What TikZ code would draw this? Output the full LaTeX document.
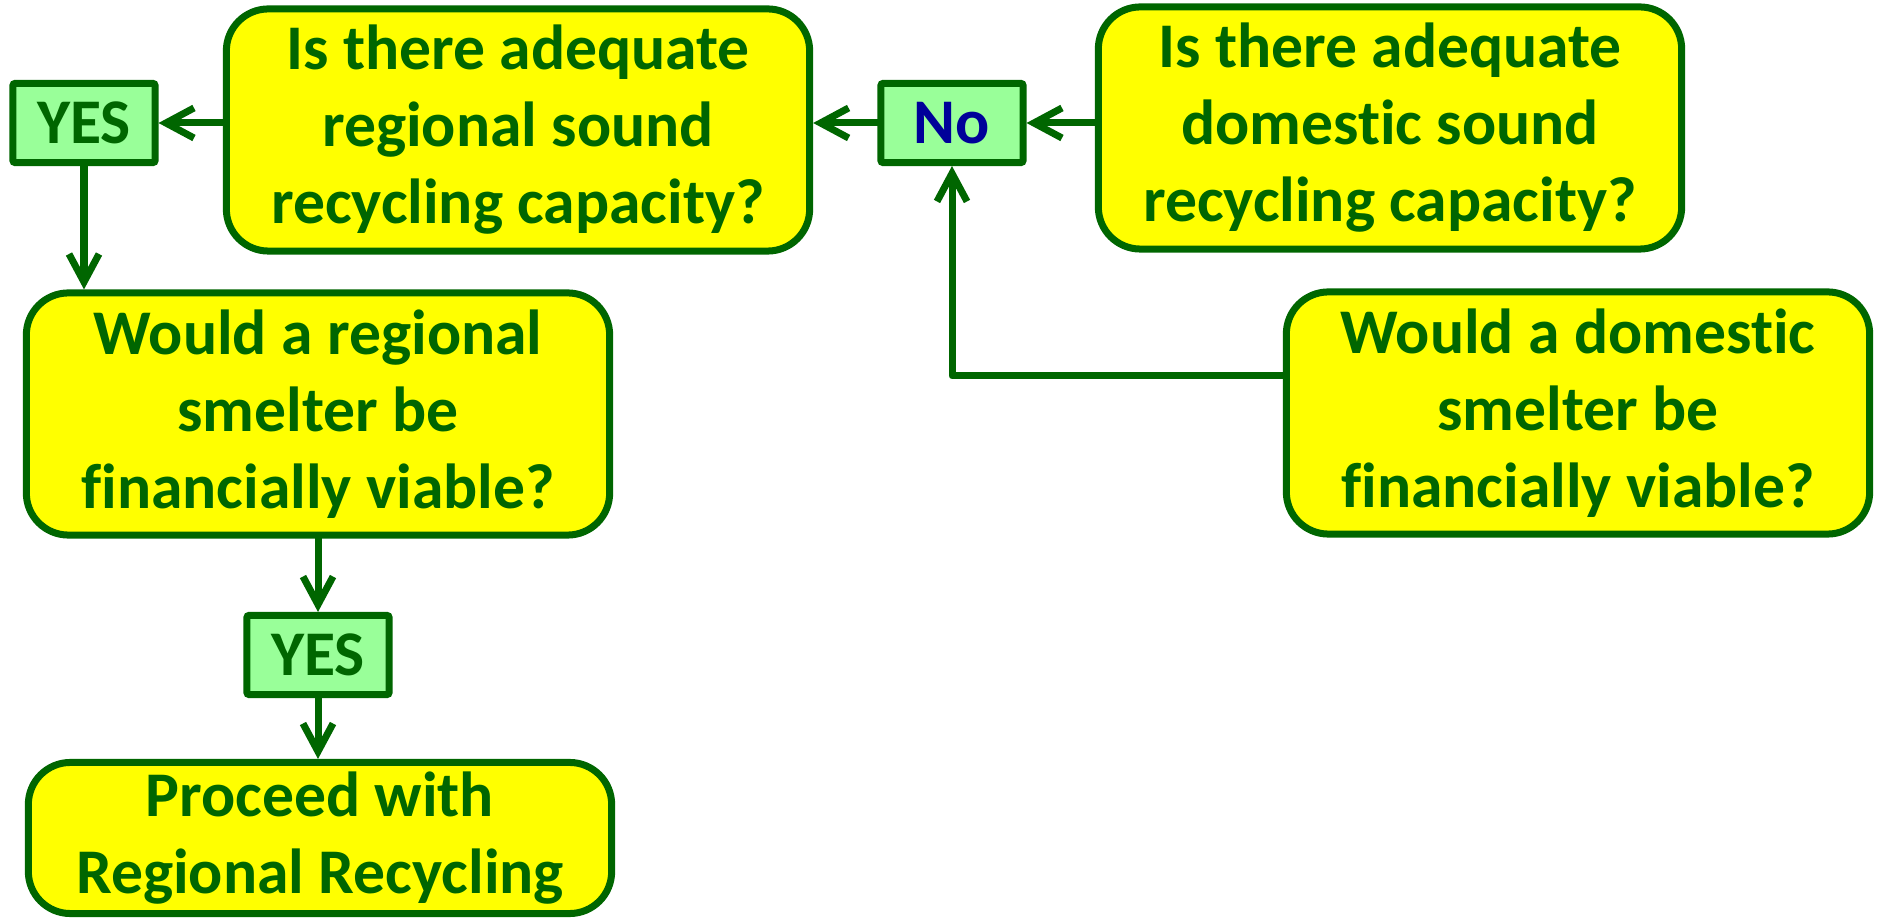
\documentclass[tikz,border=0pt]{standalone}
\usepackage{fontspec}
\setmainfont{Carlito}[Ligatures=NoCommon]
\usetikzlibrary{arrows.meta}
\definecolor{darkgrn}{RGB}{0,102,0}
\definecolor{lightgrn}{RGB}{153,255,153}
\definecolor{navyblue}{RGB}{0,0,153}
\definecolor{brightyel}{RGB}{255,255,0}

\begin{document}
\begin{tikzpicture}[x=0.01cm,y=-0.01cm]
\tikzstyle{every node}+=[inner sep=0pt]
\tikzstyle{question}=[draw=darkgrn, fill=brightyel, line width=0.07cm, rounded corners=0.42cm, minimum width=5.83cm, minimum height=2.42cm, align=center, text=darkgrn, font=\bfseries\fontsize{18.1}{21.9}\selectfont]
\tikzstyle{answer}=[draw=darkgrn, fill=lightgrn, line width=0.07cm, rounded corners=0.02cm, minimum width=1.42cm, minimum height=0.79cm, text=darkgrn, font=\bfseries\fontsize{18.1}{21.9}\selectfont]
\tikzstyle{link}=[darkgrn, line width=0.07cm, line cap=round, line join=round, -{Straight Barb[length=0.28cm,width=0.3cm]}]
\useasboundingbox (0,0) rectangle (1884,919);
% questions
\node [question] (regcap) at (518,130) {Is there adequate\\regional sound\\recycling capacity?};
\node [question] (domcap) at (1390,128) {Is there adequate\\domestic sound\\recycling capacity?};
\node [question] (regsmelt) at (318,414) {Would a regional\\smelter be\\financially viable?};
\node [question] (domsmelt) at (1578,413) {Would a domestic\\smelter be\\financially viable?};
\node [question, minimum height=1.51cm] (proceed) at (320,838) {Proceed with\\Regional Recycling};
% answers
\node [answer] (yesA) at (84,123) {YES};
\node [answer, text=navyblue] (no) at (952,123) {No};
\node [answer] (yesB) at (318,655) {YES};
% connectors
\draw [link] (domcap.west |- no.east) -- (no.east);
\draw [link] (no.west) -- (no.west -| regcap.east);
\draw [link] (regcap.west |- yesA.east) -- (yesA.east);
\draw [link] ([yshift=0.37cm]domsmelt.west) -| (no.south);
\draw [link] (yesA.south) -- (yesA.south |- regsmelt.north);
\draw [link] (regsmelt.south -| yesB) -- (yesB.north);
\draw [link] (yesB.south) -- (yesB.south |- proceed.north);
\end{tikzpicture}
\end{document}
